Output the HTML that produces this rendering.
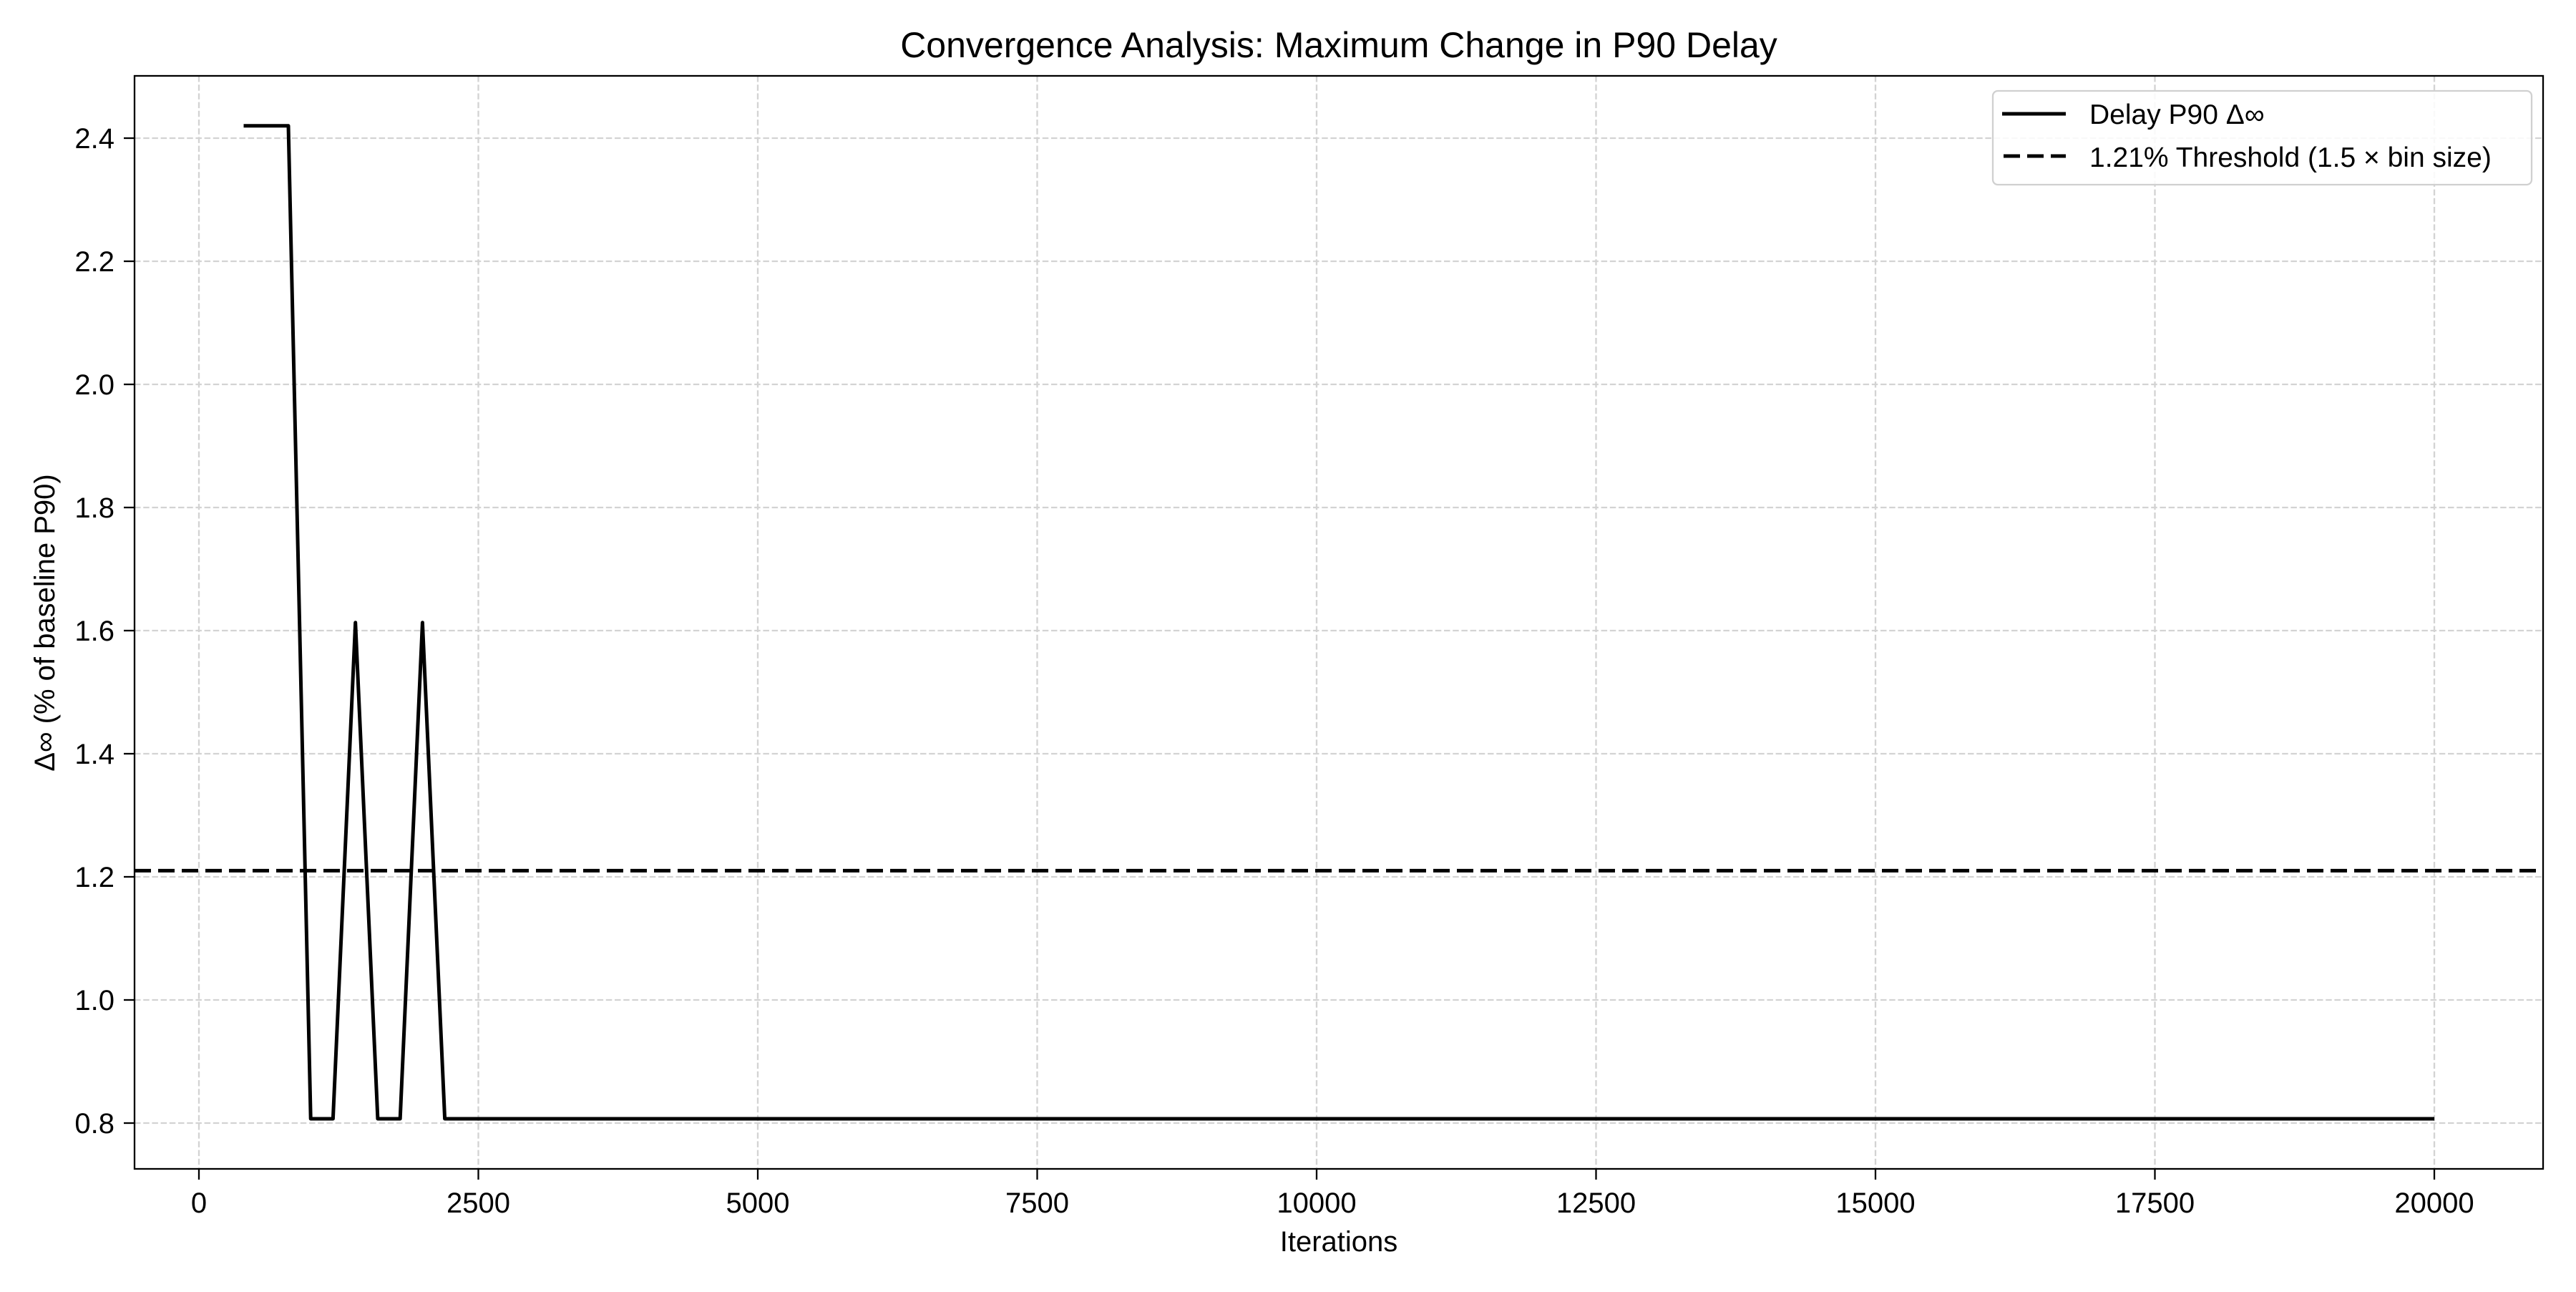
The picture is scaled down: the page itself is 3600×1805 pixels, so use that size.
<!DOCTYPE html>
<html><head><meta charset="utf-8"><style>
html,body{margin:0;padding:0;background:#fff;}
svg text{font-family:"Liberation Sans",sans-serif;fill:#000;}
</style></head><body>
<svg id="chart" width="3600" height="1800" viewBox="0 0 3600 1800" xmlns="http://www.w3.org/2000/svg">
<rect width="3600" height="1800" fill="#fff"/>
<g id="grid"></g>
<g id="series"></g>
<rect x="188" y="106" width="3366" height="1527" fill="none" stroke="#000" stroke-width="2.3"/>
<g id="ticks"></g>
<text x="1871" y="80" font-size="50" text-anchor="middle">Convergence Analysis: Maximum Change in P90 Delay</text>
<text x="1871" y="1748" font-size="40" text-anchor="middle">Iterations</text>
<text transform="translate(76,870) rotate(-90)" font-size="40" text-anchor="middle">Δ∞ (% of baseline P90)</text>
<g>
<rect x="2785" y="127" width="753" height="131" rx="7" fill="#fff" fill-opacity="0.85" stroke="#d0d0d0" stroke-width="2.3"/>
<line x1="2798" y1="159" x2="2887" y2="159" stroke="#000" stroke-width="5"/>
<text x="2920" y="173" font-size="39">Delay P90 Δ∞</text>
<line x1="2800" y1="218" x2="2887" y2="218" stroke="#000" stroke-width="5" stroke-dasharray="23,10"/>
<text x="2920" y="233" font-size="39">1.21% Threshold (1.5 × bin size)</text>
</g>
</svg>
<script>
const iterations = [400, 600, 800, 1000, 1200, 1400, 1600, 1800, 2000, 2200, 20000];
const deltaValues = [2.42, 2.42, 2.42, 0.807, 0.807, 1.613, 0.807, 0.807, 1.613, 0.807, 0.807];
const thresholdValue = 1.21;
const xTicks = [0, 2500, 5000, 7500, 10000, 12500, 15000, 17500, 20000];
const yTicks = [0.8, 1.0, 1.2, 1.4, 1.6, 1.8, 2.0, 2.2, 2.4];

const NS = 'http://www.w3.org/2000/svg';
const L = 188, R = 3554, T = 106, B = 1633;
function xs(v){ return 278 + (v - 0) * (3402 - 278) / 20000; }
function ys(v){ return 1569 - (v - 0.8) * (1569 - 193) / 1.6; }
function mk(tag, attrs, parent){ const e = document.createElementNS(NS, tag); for (const k in attrs) e.setAttribute(k, attrs[k]); parent.appendChild(e); return e; }

const grid = document.getElementById('grid');
const ticks = document.getElementById('ticks');
const series = document.getElementById('series');

xTicks.forEach(t => {
  const x = xs(t);
  const g = mk('line', {x1:x, y1:T, x2:x, y2:B, stroke:'#d3d3d3', 'stroke-width':2.3, 'stroke-dasharray':'8.5,3.7'}, grid);
  
  
  const tk = mk('line', {x1:x, y1:B, x2:x, y2:B+15, stroke:'#000', 'stroke-width':2.3}, ticks);
  
  
  const lb = mk('text', {x:x, y:B+61, 'font-size':40, 'text-anchor':'middle'}, ticks);
  lb.textContent = String(t);
  
  
});
yTicks.forEach(t => {
  const y = ys(t);
  const g = mk('line', {x1:L, y1:y, x2:R, y2:y, stroke:'#d3d3d3', 'stroke-width':2.3, 'stroke-dasharray':'8.5,3.7'}, grid);
  
  
  const tk = mk('line', {x1:L-15, y1:y, x2:L, y2:y, stroke:'#000', 'stroke-width':2.3}, ticks);
  
  
  const lb = mk('text', {x:L-28, y:y+14, 'font-size':40, 'text-anchor':'end'}, ticks);
  lb.textContent = t.toFixed(1);
  
  
});

const th = mk('line', {x1:L, y1:ys(thresholdValue), x2:R, y2:ys(thresholdValue), stroke:'#000', 'stroke-width':5, 'stroke-dasharray':'23,10'}, series);



const pts = iterations.map((it, i) => xs(it).toFixed(1) + ',' + ys(deltaValues[i]).toFixed(1)).join(' ');
const pl = mk('polyline', {points:pts, fill:'none', stroke:'#000', 'stroke-width':5, 'stroke-linejoin':'round'}, series);


</script>
</body></html>
